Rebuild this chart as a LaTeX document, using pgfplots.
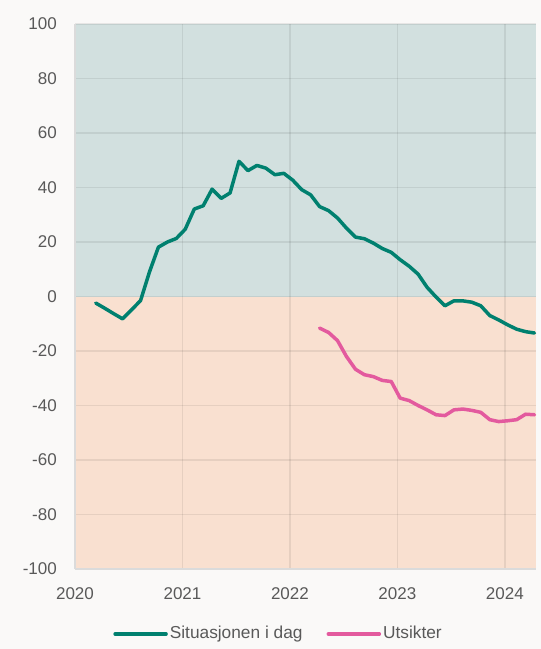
\documentclass[border=0pt]{standalone}
\usepackage{pgfplots}
\usepackage{pgfplotstable}
\pgfplotsset{compat=1.18}
\usepackage{fontspec}
\setmainfont{Liberation Sans}
\definecolor{topbg}{HTML}{D2E0DF}
\definecolor{botbg}{HTML}{F9E0D0}
\definecolor{outerbg}{HTML}{FAF9F8}
\definecolor{grn}{HTML}{00806F}
\definecolor{pnk}{HTML}{E35A9E}
\definecolor{txt}{HTML}{595959}

\pgfplotstableread{
x y
2020.193 -2.4
2020.276 -4.3
2020.360 -6.3
2020.443 -8.2
2020.526 -4.9
2020.610 -1.5
2020.693 9.0
2020.776 18.1
2020.860 20.0
2020.943 21.3
2021.026 24.7
2021.110 32.1
2021.193 33.3
2021.276 39.4
2021.360 36.0
2021.443 38.0
2021.526 49.6
2021.610 46.2
2021.693 48.1
2021.776 47.1
2021.860 44.7
2021.943 45.2
2022.026 42.7
2022.110 39.2
2022.193 37.3
2022.276 33.0
2022.360 31.5
2022.443 28.8
2022.526 25.1
2022.610 21.8
2022.693 21.2
2022.776 19.6
2022.860 17.6
2022.943 16.2
2023.026 13.5
2023.110 11.1
2023.193 8.2
2023.276 3.4
2023.360 -0.2
2023.443 -3.4
2023.526 -1.6
2023.610 -1.6
2023.693 -2.1
2023.776 -3.4
2023.860 -7.0
2023.943 -8.6
2024.026 -10.4
2024.110 -12.0
2024.193 -12.9
2024.276 -13.4
}\situasjon

\pgfplotstableread{
x y
2022.276 -11.6
2022.360 -13.2
2022.443 -16.2
2022.526 -22.0
2022.610 -26.7
2022.693 -28.7
2022.776 -29.4
2022.860 -30.8
2022.943 -31.2
2023.026 -37.3
2023.110 -38.2
2023.193 -40.0
2023.276 -41.6
2023.360 -43.4
2023.443 -43.7
2023.526 -41.6
2023.610 -41.3
2023.693 -41.8
2023.776 -42.5
2023.860 -45.2
2023.943 -45.9
2024.026 -45.6
2024.110 -45.2
2024.193 -43.2
2024.276 -43.4
}\utsikter

\begin{document}
\fontsize{17}{20}\selectfont
\begin{tikzpicture}
\fill[outerbg] (-75pt,-80pt) rectangle (466pt,569pt);
\begin{axis}[
  at={(0pt,0pt)}, anchor=south west,
  scale only axis, width=461pt, height=545pt,
  xmin=2020, xmax=2024.29, ymin=-100, ymax=100,
  xtick={2020,2021,2022,2023,2024},
  ytick={-100,-80,-60,-40,-20,0,20,40,60,80,100},
  /pgf/number format/1000 sep={},
  /pgf/number format/assume math mode=true,
  axis background/.style={fill=botbg,
    path picture={\fill[topbg] (path picture bounding box.north west) rectangle (path picture bounding box.east);}},
  axis x line*=bottom, axis y line*=left,
  axis line style={black!14, line width=1.5pt},
  major tick length=0pt,
  grid=major,
  major grid style={black, opacity=0.075, line width=1.6pt},
  tick label style={font=\fontsize{17}{20}\selectfont, text=txt, inner sep=0pt},
  xticklabel style={anchor=north, yshift=-18pt},
  yticklabel style={anchor=east, xshift=-18pt},
  legend style={at={(axis description cs:0.4458,0)}, anchor=center, yshift=-65pt, xshift=-2pt,
    draw=none, fill=none, font=\fontsize{17.3}{20}\selectfont, text=txt,
    nodes={inner sep=2pt},
    /tikz/every even column/.append style={column sep=22pt}},
  legend columns=2,
  legend cell align=left,
  legend image code/.code={\draw[line width=3.5pt] (0pt,0pt) -- (51pt,0pt);},
]
\addplot[grn, line width=3.5pt, line join=round, line cap=round] table[x=x,y=y] {\situasjon};
\addlegendentry{Situasjonen i dag}
\addplot[pnk, line width=3.5pt, line join=round, line cap=round] table[x=x,y=y] {\utsikter};
\addlegendentry{Utsikter}
\end{axis}
\end{tikzpicture}
\end{document}
